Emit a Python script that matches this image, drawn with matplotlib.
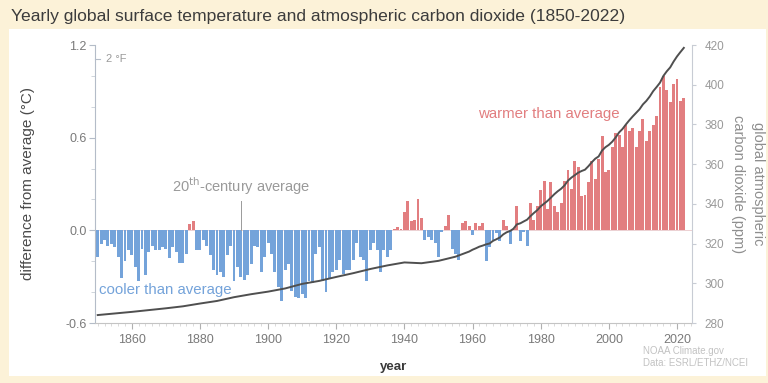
import numpy as np
import matplotlib.pyplot as plt
from matplotlib.patches import Rectangle
from matplotlib.ticker import MultipleLocator

# Yearly global surface temperature anomaly (deg C, vs 20th-century average)
years = np.arange(1850, 2023)
temp_anomaly = [
    -0.17, -0.09, -0.06, -0.10, -0.09, -0.11, -0.17, -0.31, -0.20, -0.13,  # 1850s
    -0.16, -0.24, -0.33, -0.12, -0.29, -0.14, -0.10, -0.13, -0.13, -0.11,  # 1860s
    -0.12, -0.18, -0.11, -0.14, -0.21, -0.21, -0.15, 0.04, 0.06, -0.13,    # 1870s
    -0.13, -0.06, -0.10, -0.16, -0.26, -0.29, -0.27, -0.30, -0.16, -0.10,  # 1880s
    -0.33, -0.24, -0.30, -0.32, -0.29, -0.22, -0.10, -0.11, -0.27, -0.17,  # 1890s
    -0.08, -0.15, -0.27, -0.37, -0.46, -0.26, -0.22, -0.39, -0.43, -0.44,  # 1900s
    -0.41, -0.44, -0.33, -0.34, -0.15, -0.11, -0.33, -0.40, -0.31, -0.27,  # 1910s
    -0.26, -0.19, -0.28, -0.26, -0.26, -0.19, -0.08, -0.17, -0.19, -0.33,  # 1920s
    -0.13, -0.08, -0.13, -0.27, -0.13, -0.17, -0.13, 0.01, 0.02, 0.01,     # 1930s
    0.12, 0.19, 0.06, 0.07, 0.20, 0.08, -0.06, -0.04, -0.06, -0.08,        # 1940s
    -0.17, -0.01, 0.03, 0.10, -0.12, -0.15, -0.19, 0.05, 0.06, 0.03,       # 1950s
    -0.03, 0.05, 0.03, 0.05, -0.20, -0.11, -0.06, -0.02, -0.07, 0.07,      # 1960s
    0.03, -0.09, 0.01, 0.16, -0.07, -0.01, -0.10, 0.18, 0.07, 0.16,        # 1970s
    0.26, 0.32, 0.14, 0.31, 0.16, 0.12, 0.18, 0.32, 0.39, 0.27,            # 1980s
    0.45, 0.41, 0.22, 0.23, 0.31, 0.45, 0.33, 0.46, 0.61, 0.38,            # 1990s
    0.39, 0.54, 0.63, 0.62, 0.54, 0.68, 0.64, 0.66, 0.54, 0.64,            # 2000s
    0.72, 0.58, 0.64, 0.68, 0.74, 0.93, 1.00, 0.91, 0.83, 0.95,            # 2010s
    0.98, 0.84, 0.86,                                                      # 2020s
]

# Atmospheric CO2 (ppm): ice-core era every 5 years, then Mauna Loa yearly
co2_years = [
    1850, 1855, 1860, 1865, 1870, 1875, 1880, 1885, 1890, 1895,
    1900, 1905, 1910, 1915, 1920, 1925, 1930, 1935, 1940, 1945,
    1950, 1955, 1959, 1960, 1961, 1962, 1963, 1964, 1965, 1966,
    1967, 1968, 1969, 1970, 1971, 1972, 1973, 1974, 1975, 1976,
    1977, 1978, 1979, 1980, 1981, 1982, 1983, 1984, 1985, 1986,
    1987, 1988, 1989, 1990, 1991, 1992, 1993, 1994, 1995, 1996,
    1997, 1998, 1999, 2000, 2001, 2002, 2003, 2004, 2005, 2006,
    2007, 2008, 2009, 2010, 2011, 2012, 2013, 2014, 2015, 2016,
    2017, 2018, 2019, 2020, 2021, 2022,
]
co2_ppm = [
    284.0, 284.8, 285.6, 286.5, 287.4, 288.4, 289.8, 291.1, 293.0, 294.5,
    295.8, 297.4, 299.7, 301.2, 303.2, 305.1, 307.2, 309.0, 310.5, 310.1,
    311.3, 313.4, 315.98, 316.91, 317.64, 318.45, 318.99, 319.62, 320.04, 321.37,
    322.18, 323.05, 324.62, 325.68, 326.32, 327.46, 329.68, 330.19, 331.13, 332.03,
    333.84, 335.41, 336.84, 338.76, 340.12, 341.48, 343.15, 344.87, 346.35, 347.61,
    349.31, 351.69, 353.20, 354.45, 355.70, 356.54, 357.21, 358.96, 360.97, 362.74,
    363.88, 366.84, 368.54, 369.71, 371.32, 373.45, 375.98, 377.70, 379.98, 382.09,
    384.02, 385.83, 387.64, 390.10, 391.85, 394.06, 396.74, 398.81, 401.01, 404.41,
    406.76, 408.72, 411.66, 414.24, 416.45, 418.56,
]

temp_ticks = [-0.6, 0.0, 0.6, 1.2]
co2_ticks = [280, 300, 320, 340, 360, 380, 400, 420]
year_ticks = [1860, 1880, 1900, 1920, 1940, 1960, 1980, 2000, 2020]

WARM = "#e27e80"
COOL = "#74a3da"
CO2_LINE = "#4f4f4f"
CREAM = "#fcf2d8"

plt.rcParams["font.family"] = ["Liberation Sans", "DejaVu Sans"]

fig = plt.figure(figsize=(7.68, 3.83), dpi=100, facecolor=CREAM)
# white panel behind the chart, cream band above for the title
fig.patches.append(Rectangle((9 / 768, 7 / 383), 757 / 768, 347 / 383,
                             transform=fig.transFigure, facecolor="white",
                             edgecolor="none", zorder=-1))

ax = fig.add_axes([95 / 768, 60 / 383, 597 / 768, 278 / 383])
ax.set_facecolor("none")

anom = np.array(temp_anomaly)
colors = np.where(anom >= 0, WARM, COOL)
ax.bar(years, anom, width=0.86, color=colors, linewidth=0, zorder=2)
ax.axhline(0, color="#e9c9cb", linewidth=0.6, zorder=1)

ax.set_xlim(1849.2, 2024.4)
ax.set_ylim(-0.6, 1.2)
ax.set_yticks(temp_ticks)
ax.set_yticklabels([f"{t:.1f}" for t in temp_ticks])
ax.yaxis.set_minor_locator(MultipleLocator(0.2))
ax.set_xticks(year_ticks)
ax.xaxis.set_minor_locator(MultipleLocator(2))

for side in ("top", "right"):
    ax.spines[side].set_visible(False)
ax.spines["left"].set_color("#b4bcc8")
ax.spines["bottom"].set_color("#c4c4c4")
ax.tick_params(axis="y", which="major", length=4, color="#b4bcc8",
               labelsize=9, labelcolor="#7a7a7a", pad=2)
ax.tick_params(axis="y", which="minor", length=3, color="#c8ced6")
ax.tick_params(axis="x", which="major", length=4, color="#b0b0b0",
               labelsize=9, labelcolor="#7a7a7a", pad=4)
ax.tick_params(axis="x", which="minor", length=2, color="#d4d4d4")

ax.set_ylabel("difference from average (\u00b0C)", fontsize=11,
              color="#4a4a4a", labelpad=22)
ax.set_xlabel("year", fontsize=9.5, color="#3a3a3a", fontweight="bold",
              labelpad=11)

# CO2 on a secondary axis
ax2 = ax.twinx()
ax2.set_facecolor("none")
ax2.plot(co2_years, co2_ppm, color=CO2_LINE, linewidth=1.4, zorder=3)
ax2.set_ylim(280, 420)
ax2.set_yticks(co2_ticks)
for side in ("top", "left", "bottom"):
    ax2.spines[side].set_visible(False)
ax2.spines["right"].set_color("#c8ccd4")
ax2.tick_params(axis="y", length=3, color="#c8ccd4", labelsize=8.5,
                labelcolor="#9a9a9a", pad=6)

fig.text(748 / 768, 0.52, "global atmospheric\ncarbon dioxide (ppm)",
         rotation=270, ha="center", va="center", fontsize=10.5,
         color="#8e8e8e", linespacing=1.55)

# Fahrenheit reference mark
ax.plot([1849.2, 1850.6], [2 / 1.8, 2 / 1.8], color="#b4bcc8", linewidth=0.8,
        clip_on=False, zorder=2)
ax.text(1852.5, 2 / 1.8, "2 \u00b0F", fontsize=8, color="#9a9a9a",
        va="center", ha="left")

# 20th-century average marker
ax.plot([1892, 1892], [0.0, 0.19], color="#9a9a9a", linewidth=0.7, zorder=3)
ax.text(1892, 0.215, "20$^{\\rm th}$-century average", fontsize=10.5,
        color="#9a9a9a", ha="center", va="bottom")

ax.text(1850.5, -0.385, "cooler than average", fontsize=10.8, color=COOL,
        ha="left", va="center")
ax.text(1982.5, 0.755, "warmer than average", fontsize=10.8, color=WARM,
        ha="center", va="center")

fig.text(11 / 768, 1 - 17 / 383,
         "Yearly global surface temperature and atmospheric carbon dioxide (1850-2022)",
         fontsize=12.6, color="#3c3c3c", ha="left", va="center")

fig.text(643 / 768, 26 / 383, "NOAA Climate.gov\nData: ESRL/ETHZ/NCEI",
         fontsize=7, color="#c2c2c2", ha="left", va="center", linespacing=1.3)

fig.savefig("out.png", dpi=100, facecolor=CREAM)
